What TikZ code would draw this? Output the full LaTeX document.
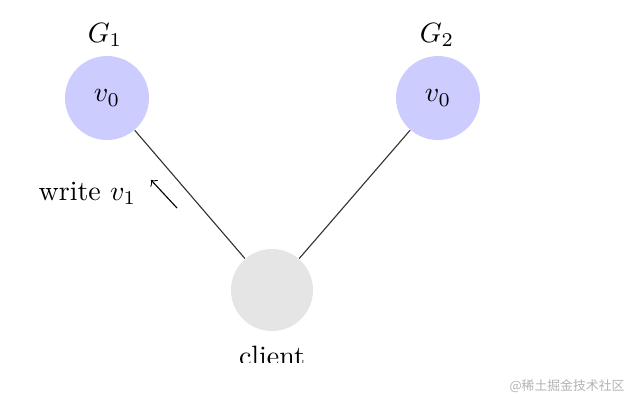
\documentclass[tikz,border=0pt]{standalone}
\usepackage{fontspec}
\newfontfamily\cjk{Noto Sans CJK SC}
\begin{document}
\begin{tikzpicture}[x=0.358pt,y=-0.358pt,
  server/.style={circle,fill=blue!20,minimum size=84*0.358pt,inner sep=0pt},
  clientnode/.style={circle,fill=gray!20,minimum size=82*0.358pt,inner sep=0pt},
  link/.style={draw=black!80,line width=0.4pt},
  lbl/.style={inner sep=0pt}]
\useasboundingbox (0,0) rectangle (633,400);
\node[server] (g1) at (107,98) {$v_0$};
\node[server] (g2) at (438,98) {$v_0$};
\node[clientnode] (c) at (272,290) {};
\node[lbl] (g1l) at (105,35) {$G_1$};
\node[lbl] (g2l) at (437,35) {$G_2$};
\draw[link] (g1) -- (c);
\draw[link] (g2) -- (c);
\coordinate (as) at (177,208);
\coordinate (ae) at (151,180);
\draw[->,line width=0.4pt] (as) -- (ae);
\node[lbl] (w) at (87.5,193) {write $v_1$};
\begin{scope}
\clip (200,330) rectangle (340,362);
\node[lbl,anchor=north] (cl) at (272,346) {client};
\end{scope}
\node[lbl,text=black!30] (wm) at (567,386) {\cjk\fontsize{4.6pt}{5pt}\selectfont @稀土掘金技术社区};
\end{tikzpicture}
\end{document}
